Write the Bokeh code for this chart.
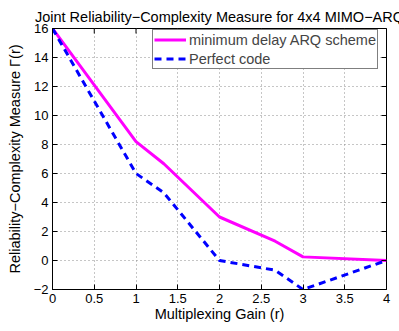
import math
from bokeh.plotting import figure
from bokeh.models import Range1d, FixedTicker, Legend, LegendItem
from bokeh.embed import file_html
from bokeh.resources import INLINE

# Multiplexing gain r and the joint reliability-complexity measure for each scheme
r_values = [0, 1, 4/3, 2, 8/3, 3, 4]
arq_measure = [16, 8.2, 6.67, 3, 1.33, 0.25, 0]
perfect_measure = [16, 6, 4.67, 0, -0.67, -2, 0]

x_ticks = [0, 0.5, 1, 1.5, 2, 2.5, 3, 3.5, 4]
y_ticks = [-2, 0, 2, 4, 6, 8, 10, 12, 14, 16]
X_MIN, X_MAX = 0, 4
Y_MIN, Y_MAX = -2, 16
FONT = "Liberation Sans"
TICK_SIZE = "13px"
TEXT_SIZE = "14.5px"

p = figure(width=399, height=331, output_backend="svg", toolbar_location=None,
           x_range=Range1d(X_MIN, X_MAX), y_range=Range1d(Y_MIN, Y_MAX),
           min_border_left=52, min_border_right=13, min_border_top=28, min_border_bottom=42,
           title="Joint Reliability\u2212Complexity Measure for 4x4 MIMO\u2212ARQ")

p.title.align = "center"
p.title.text_font = FONT
p.title.text_font_size = TEXT_SIZE
p.title.text_font_style = "normal"
p.title.text_color = "black"
p.title.offset = 0
p.title.standoff = 8

for g in (p.xgrid[0], p.ygrid[0]):
    g.grid_line_color = "#8c8c8c"
    g.grid_line_dash = "1 3"
    g.grid_line_width = 1

l1 = p.line(r_values, arq_measure, line_color="#FF00FF", line_width=3)
l2 = p.line(r_values, perfect_measure, line_color="#0000FF", line_width=3, line_dash="7 5")

# box-style frame: inward tick marks mirrored on the top and right edges
# (dash markers centred on the edge; the half outside the frame is clipped)
p.scatter(x_ticks, [Y_MAX] * len(x_ticks), marker="dash", angle=math.pi / 2,
          size=10, line_color="black", line_width=1)
p.scatter([X_MAX] * len(y_ticks), y_ticks, marker="dash",
          size=10, line_color="black", line_width=1)

xax = p.xaxis[0]
yax = p.yaxis[0]
for ax in (xax, yax):
    ax.major_tick_in = 5
    ax.major_tick_out = 0
    ax.minor_tick_in = 0
    ax.minor_tick_out = 0
    ax.axis_line_color = "black"
    ax.major_tick_line_color = "black"
    ax.major_label_text_font = FONT
    ax.major_label_text_font_size = TICK_SIZE
    ax.major_label_text_color = "black"
    ax.axis_label_text_font = FONT
    ax.axis_label_text_font_size = TEXT_SIZE
    ax.axis_label_text_font_style = "normal"
    ax.axis_label_text_color = "black"

xax.ticker = FixedTicker(ticks=x_ticks)
yax.ticker = FixedTicker(ticks=y_ticks)
xax.major_label_overrides = {t: ("%g" % t) for t in x_ticks}
yax.major_label_overrides = {t: ("%g" % t).replace("-", "\u2212") for t in y_ticks}
xax.axis_label = "Multiplexing Gain (r)"
yax.axis_label = "Reliability\u2212Complexity Measure \u0393(r)"
xax.major_label_standoff = 4
yax.major_label_standoff = 4
xax.axis_label_standoff = 0
yax.axis_label_standoff = 8

p.outline_line_color = "black"
p.outline_line_width = 1
p.outline_line_alpha = 1

legend = Legend(items=[LegendItem(label="minimum delay ARQ scheme", renderers=[l1]),
                       LegendItem(label="Perfect code", renderers=[l2])],
                location=(100, 220), margin=0)
legend.border_line_color = "black"
legend.border_line_width = 1
legend.label_text_font = FONT
legend.label_text_font_size = TEXT_SIZE
legend.label_height = 17
legend.glyph_height = 17
legend.glyph_width = 32
legend.label_standoff = 3
legend.spacing = 2
legend.padding = 1
legend.background_fill_alpha = 1
p.add_layout(legend)

open("out.html", "w").write(file_html(p, INLINE))
